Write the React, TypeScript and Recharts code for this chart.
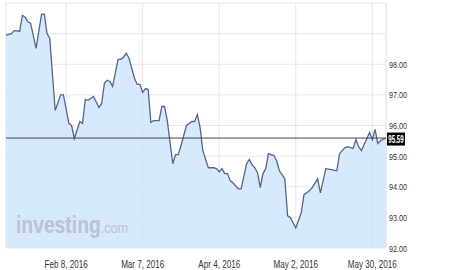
import React from "react";
import { AreaChart, Area, XAxis, YAxis, CartesianGrid, ReferenceLine } from "recharts";

const dates = [
  "2016-01-17", "2016-01-19", "2016-01-20", "2016-01-22", "2016-01-23", "2016-01-24", "2016-01-25", "2016-01-26",
  "2016-01-28", "2016-01-30", "2016-01-31", "2016-02-01", "2016-02-02", "2016-02-04", "2016-02-06", "2016-02-07",
  "2016-02-09", "2016-02-10", "2016-02-11", "2016-02-13", "2016-02-14", "2016-02-15", "2016-02-16", "2016-02-18",
  "2016-02-20", "2016-02-21", "2016-02-22", "2016-02-23", "2016-02-24", "2016-02-25", "2016-02-27", "2016-02-28",
  "2016-02-29", "2016-03-01", "2016-03-02", "2016-03-04", "2016-03-05", "2016-03-06", "2016-03-07", "2016-03-08",
  "2016-03-09", "2016-03-10", "2016-03-11", "2016-03-13", "2016-03-14", "2016-03-15", "2016-03-16", "2016-03-18",
  "2016-03-19", "2016-03-20", "2016-03-21", "2016-03-23", "2016-03-25", "2016-03-26", "2016-03-27", "2016-03-28",
  "2016-03-29", "2016-03-31", "2016-04-02", "2016-04-03", "2016-04-04", "2016-04-05", "2016-04-06", "2016-04-07",
  "2016-04-08", "2016-04-09", "2016-04-11", "2016-04-12", "2016-04-14", "2016-04-15", "2016-04-16", "2016-04-17",
  "2016-04-18", "2016-04-19", "2016-04-20", "2016-04-21", "2016-04-22", "2016-04-24", "2016-04-25", "2016-04-26",
  "2016-04-28", "2016-04-29", "2016-04-30", "2016-05-02", "2016-05-04", "2016-05-05", "2016-05-07", "2016-05-08",
  "2016-05-10", "2016-05-11", "2016-05-13", "2016-05-15", "2016-05-17", "2016-05-18", "2016-05-20", "2016-05-21",
  "2016-05-23", "2016-05-24", "2016-05-25", "2016-05-26", "2016-05-29", "2016-05-30", "2016-05-31", "2016-06-01",
  "2016-06-02", "2016-06-04",
];

const prices = [
  98.95, 99.0, 99.1, 99.08, 99.6, 99.54, 99.38, 99.34,
  98.52, 99.64, 99.64, 99.0, 98.85, 96.49, 97.0, 97.0,
  96.07, 96.0, 95.57, 96.13, 96.07, 96.85, 96.82, 96.95,
  96.59, 96.72, 97.38, 97.48, 97.44, 97.28, 98.16, 98.16,
  98.23, 98.36, 98.2, 97.54, 97.34, 97.34, 97.08, 97.2,
  97.18, 96.1, 96.16, 96.16, 96.62, 96.62, 96.16, 94.75,
  95.05, 95.05, 95.34, 96.0, 96.13, 96.13, 96.36, 95.93,
  95.18, 94.62, 94.62, 94.59, 94.49, 94.59, 94.43, 94.43,
  94.2, 94.13, 93.93, 93.93, 94.75, 94.89, 94.72, 94.62,
  94.46, 93.97, 94.43, 94.59, 95.08, 95.02, 94.85, 94.52,
  94.26, 93.05, 93.0, 92.66, 93.15, 93.74, 93.87, 93.97,
  94.26, 93.8, 94.59, 94.56, 94.52, 95.08, 95.28, 95.31,
  95.25, 95.54, 95.31, 95.18, 95.77, 95.54, 95.87, 95.41,
  95.51, 95.59,
];

const lastPrice = 95.59;
const xTickDates = ["2016-02-08", "2016-03-07", "2016-04-04", "2016-05-02", "2016-05-30"];
const xTickLabels = ["Feb 8, 2016", "Mar 7, 2016", "Apr 4, 2016", "May 2, 2016", "May 30, 2016"];
const yTicks = [92, 93, 94, 95, 96, 97, 98, 99, 100];
const yLabelled = [92, 93, 94, 95, 96, 97, 98];
const xDomainDates = ["2016-01-17", "2016-06-04"];

const dayOfYear = (s: string) => {
  const [y, m, d] = s.split("-").map(Number);
  return Math.round((Date.UTC(y, m - 1, d) - Date.UTC(y, 0, 0)) / 86400000);
};

const data = dates.map((d, i) => ({ day: dayOfYear(d), price: prices[i] }));
const xTicks = xTickDates.map(dayOfYear);
const xDomain = xDomainDates.map(dayOfYear);

const FONT = "'Liberation Sans', Arial, sans-serif";

const XTick = (props: any) => {
  const { x, y, payload } = props;
  const idx = xTicks.indexOf(payload.value);
  return (
    <text
      transform={`translate(${x},${y + 20}) scale(0.81,1)`}
      textAnchor="middle"
      fontSize={10}
      fontFamily={FONT}
      fill="#333"
    >
      {idx >= 0 ? xTickLabels[idx] : ""}
    </text>
  );
};

const YTick = (props: any) => {
  const { x, y, payload } = props;
  if (!yLabelled.includes(payload.value)) return <g />;
  return (
    <text
      transform={`translate(${x + 3},${y + 3.5}) scale(0.76,1)`}
      textAnchor="start"
      fontSize={9.5}
      fontFamily={FONT}
      fill="#333"
    >
      {payload.value.toFixed(2)}
    </text>
  );
};

const PriceLabel = (props: any) => {
  const vb = props.viewBox || {};
  const x = (vb.x ?? 0) + (vb.width ?? 0);
  const y = vb.y ?? 0;
  return (
    <g>
      <rect x={x + 1} y={y - 5.5} width={18} height={13} fill="#000" />
      <text
        transform={`translate(${x + 10},${y + 4.5}) scale(0.62,1)`}
        textAnchor="middle"
        fontSize={10}
        fontWeight="bold"
        fontFamily={FONT}
        fill="#fff"
      >
        {lastPrice.toFixed(2)}
      </text>
    </g>
  );
};

export default function App() {
  return (
    <div style={{ position: "absolute", left: 0, top: 0, width: 450, height: 270, background: "#fff" }}>
      <AreaChart width={450} height={270} data={data} margin={{ top: 3, right: 32, bottom: 0, left: 6 }}>
        <CartesianGrid stroke="#e3e7ee" strokeWidth={1} />
        <XAxis
          dataKey="day"
          type="number"
          domain={xDomain}
          ticks={xTicks}
          height={22}
          tickSize={0}
          tickMargin={0}
          axisLine={false}
          tickLine={false}
          tick={<XTick />}
          interval={0}
          allowDataOverflow
        />
        <YAxis
          orientation="right"
          type="number"
          domain={[92, 100]}
          ticks={yTicks}
          width={32}
          tickSize={0}
          tickMargin={0}
          axisLine={false}
          tickLine={false}
          tick={<YTick />}
          interval={0}
          allowDataOverflow
        />
        <Area
          type="linear"
          dataKey="price"
          stroke="#56648a"
          strokeWidth={1.3}
          fill="#cde3fb"
          fillOpacity={0.8}
          isAnimationActive={false}
          dot={false}
          activeDot={false}
        />
        <ReferenceLine x={xDomain[1]} stroke="#e3e7ee" />
        <ReferenceLine y={lastPrice} stroke="#444" strokeWidth={1} label={<PriceLabel />} />
      </AreaChart>
      <svg width={450} height={270} style={{ position: "absolute", left: 0, top: 0, pointerEvents: "none" }}>
        <text transform="translate(16,233) scale(0.84,1)" fontFamily={FONT} fill="#b9c3cf">
          <tspan fontSize={23} fontWeight="bold">investing</tspan>
          <tspan fontSize={15}>.com</tspan>
        </text>
      </svg>
    </div>
  );
}
